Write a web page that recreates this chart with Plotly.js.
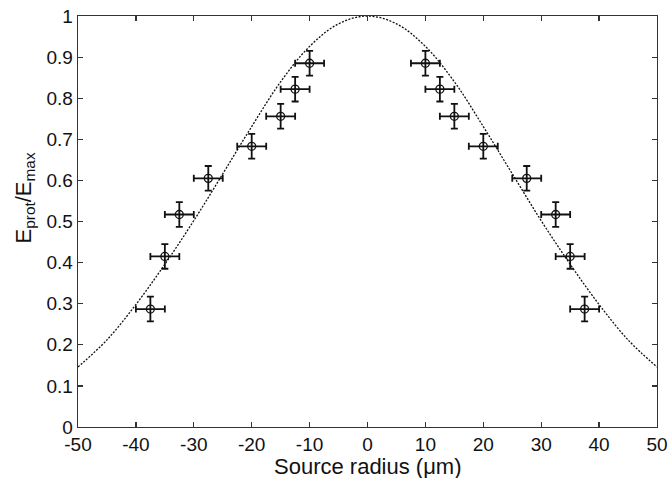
<!DOCTYPE html>
<html>
<head>
<meta charset="utf-8">
<script src="https://cdn.plot.ly/plotly-3.0.1.min.js"></script>
<style>html,body{margin:0;padding:0;background:#fff;}#chart{width:668px;height:478px;}</style>
</head>
<body>
<div id="chart"></div>
<script>
// Measured points (source radius in µm, normalised proton energy)
const radiusPts = [-37.5, -35, -32.5, -27.5, -20, -15, -12.5, -10, 10, 12.5, 15, 20, 27.5, 32.5, 35, 37.5];
const energyPts = [0.287, 0.415, 0.517, 0.605, 0.683, 0.756, 0.822, 0.885, 0.885, 0.822, 0.756, 0.683, 0.605, 0.517, 0.415, 0.287];
const radiusErr = [2.5, 2.5, 2.5, 2.5, 2.5, 2.5, 2.5, 2.5, 2.5, 2.5, 2.5, 2.5, 2.5, 2.5, 2.5, 2.5];
const energyErr = [0.03, 0.03, 0.03, 0.03, 0.03, 0.03, 0.03, 0.03, 0.03, 0.03, 0.03, 0.03, 0.03, 0.03, 0.03, 0.03];

// Model curve, values
const curveX = [-50, -45, -40, -35, -30, -25, -20, -15, -10, -5, 0, 5, 10, 15, 20, 25, 30, 35, 40, 45, 50];
const curveY = [0.146, 0.212, 0.298, 0.396, 0.502, 0.616, 0.731, 0.840, 0.926, 0.981, 1.0, 0.981, 0.926, 0.840, 0.731, 0.616, 0.502, 0.396, 0.298, 0.212, 0.146];

// Tick labels
const xTickVals = [-50, -40, -30, -20, -10, 0, 10, 20, 30, 40, 50];
const xTickText = ['-50', '-40', '-30', '-20', '-10', '0', '10', '20', '30', '40', '50'];
const yTickVals = [0, 0.1, 0.2, 0.3, 0.4, 0.5, 0.6, 0.7, 0.8, 0.9, 1];
const yTickText = ['0', '0.1', '0.2', '0.3', '0.4', '0.5', '0.6', '0.7', '0.8', '0.9', '1'];

const xTitle = 'Source radius (\u03bcm)';
const yTitle = 'E<sub>prot</sub>/E<sub>max</sub>';

const FONT = 'Liberation Sans, Arial, Helvetica, sans-serif';

const traces = [
  {
    x: curveX, y: curveY, type: 'scatter', mode: 'lines',
    line: {color: '#111', width: 1.3, dash: '2px,1.5px', shape: 'spline', smoothing: 1.0},
    hoverinfo: 'skip', showlegend: false
  },
  {
    x: radiusPts, y: energyPts, type: 'scatter', mode: 'markers',
    marker: {symbol: 'circle-open', size: 8, color: '#111', line: {width: 1.3, color: '#111'}},
    error_y: {type: 'data', array: energyErr, visible: true, color: '#111', thickness: 1.8, width: 3.5},
    error_x: {type: 'data', array: radiusErr, visible: true, color: '#111', thickness: 1.8, width: 3.5},
    showlegend: false
  }
];

const axisCommon = {
  showgrid: false, zeroline: false, showline: true, mirror: 'ticks',
  linecolor: '#333', linewidth: 1.3, ticks: 'inside', ticklen: 5, tickwidth: 1.2, tickcolor: '#333',
  tickfont: {family: FONT, size: 19, color: '#111'}, automargin: false, ticklabeloverflow: 'allow'
};

const layout = {
  width: 668, height: 478,
  paper_bgcolor: '#fff', plot_bgcolor: '#fff',
  margin: {l: 78, r: 11, t: 16, b: 51},
  font: {family: FONT, color: '#111'},
  xaxis: Object.assign({}, axisCommon, {
    range: [-50, 50], tickmode: 'array', tickvals: xTickVals, ticktext: xTickText
  }),
  yaxis: Object.assign({}, axisCommon, {
    range: [0, 1], tickmode: 'array', tickvals: yTickVals, ticktext: yTickText
  }),
  annotations: [
    {
      text: xTitle, xref: 'paper', yref: 'paper', x: 0.5, y: 0,
      xanchor: 'center', yanchor: 'middle', yshift: -39, showarrow: false,
      font: {family: FONT, size: 22, color: '#111'}
    },
    {
      text: yTitle, xref: 'paper', yref: 'paper', x: 0, y: 0.556,
      xanchor: 'center', yanchor: 'middle', xshift: -53, textangle: -90, showarrow: false,
      font: {family: FONT, size: 22, color: '#111'}
    }
  ]
};

Plotly.newPlot('chart', traces, layout, {displayModeBar: false, staticPlot: true});
</script>
</body>
</html>
